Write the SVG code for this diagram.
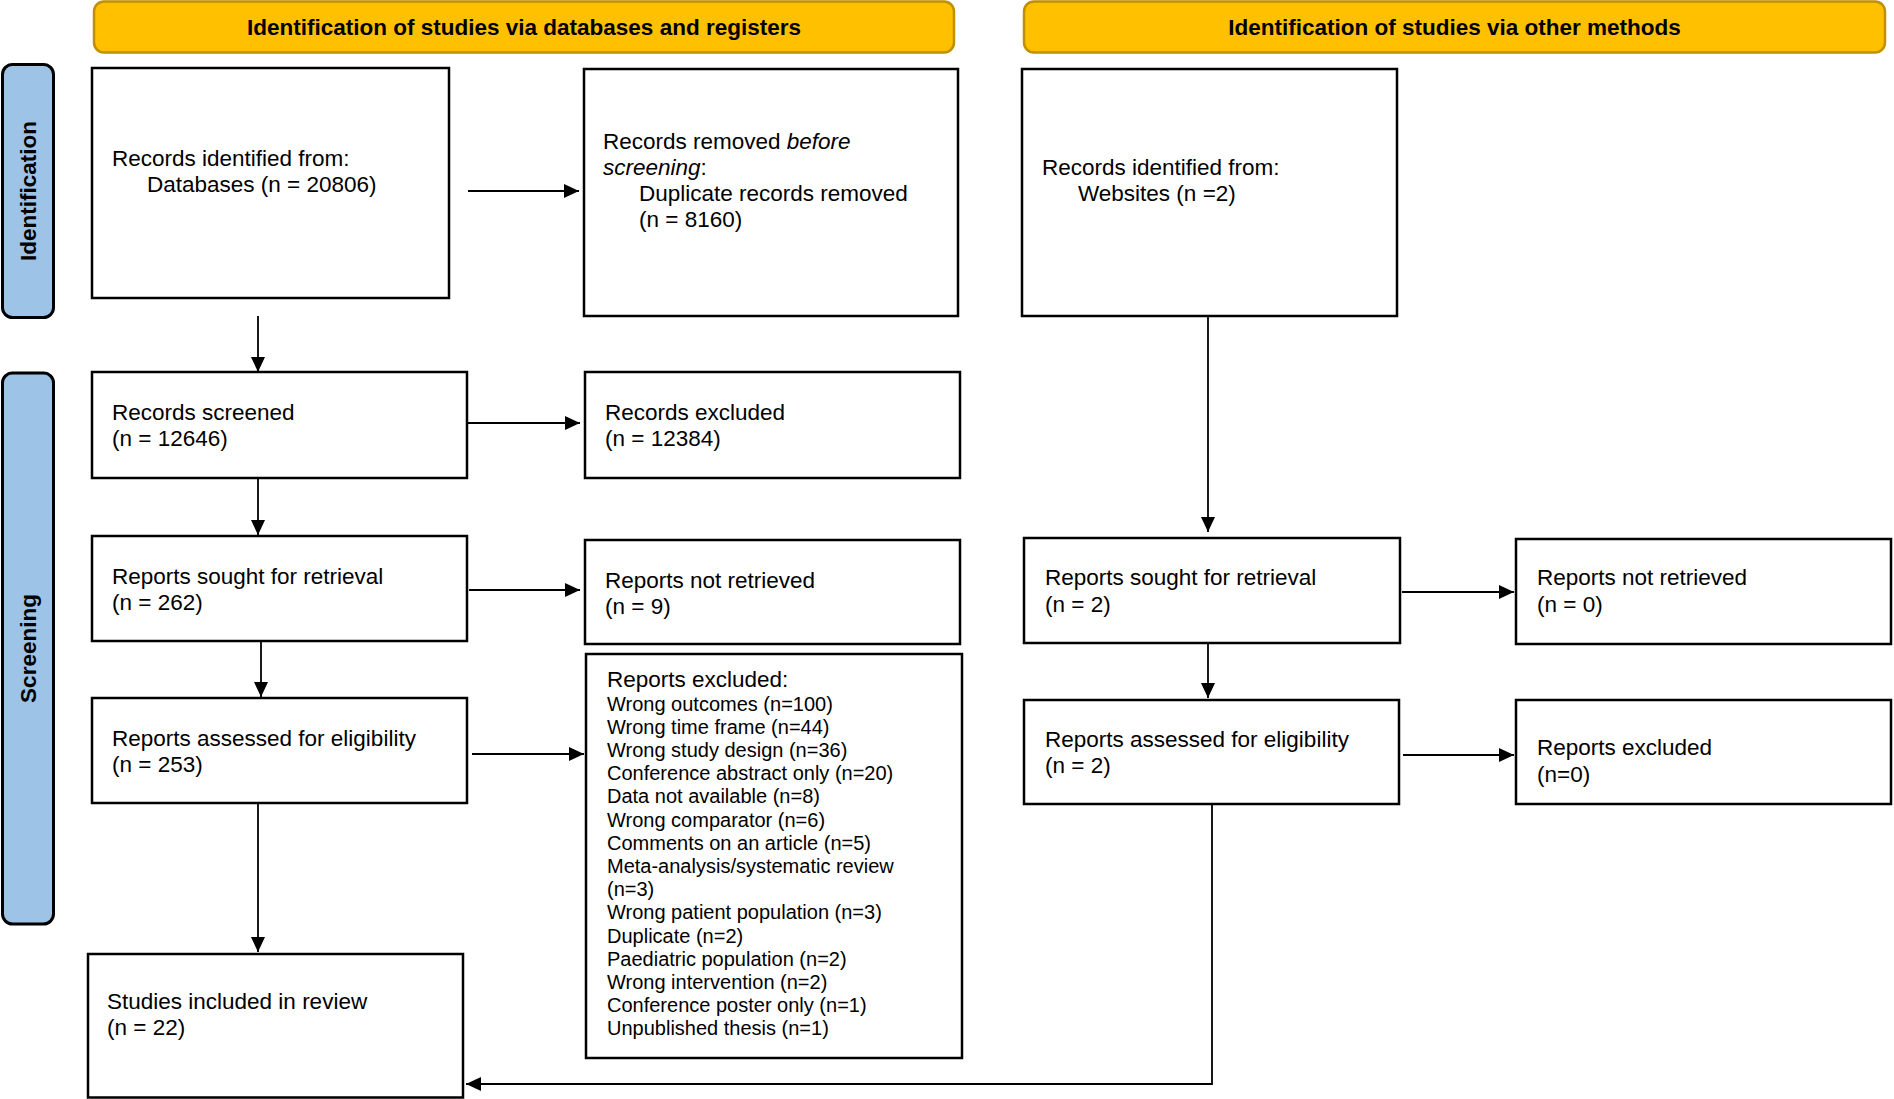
<svg xmlns="http://www.w3.org/2000/svg" width="1894" height="1099" viewBox="0 0 1894 1099">
<style>
.hdr{fill:#FFC000;stroke:#BF9000;stroke-width:2.5}
.side{fill:#9DC3E6;stroke:#000;stroke-width:3}
.box{fill:#fff;stroke:#000;stroke-width:2.5}
.t{font-family:"Liberation Sans",Arial,sans-serif;font-size:22.5px;fill:#000}
.s{font-family:"Liberation Sans",Arial,sans-serif;font-size:20px;fill:#000}
.b{font-family:"Liberation Sans",Arial,sans-serif;font-size:22.5px;font-weight:bold;fill:#000;text-anchor:middle}
.c{fill:none;stroke:#000;stroke-width:1.8}
</style>
<defs>
<marker id="ah" markerUnits="userSpaceOnUse" markerWidth="16" markerHeight="16" refX="15" refY="7" orient="auto">
<path d="M0,0 L15,7 L0,14 Z" fill="#000"/>
</marker>
</defs>
<rect width="1894" height="1099" fill="#fff"/>

<g id="header-databases">
<rect class="hdr" x="94" y="1.5" width="860" height="51" rx="10"/>
<text class="b" x="524" y="35">Identification of studies via databases and registers</text>
</g>
<g id="header-other">
<rect class="hdr" x="1024" y="1.5" width="861" height="51" rx="10"/>
<text class="b" x="1454.5" y="35">Identification of studies via other methods</text>
</g>
<g id="side-identification">
<rect class="side" x="2.5" y="64.5" width="51" height="253" rx="10"/>
<text class="b" transform="translate(36,191) rotate(-90)" x="0" y="0">Identification</text>
</g>
<g id="side-screening">
<rect class="side" x="2.5" y="373" width="51" height="551" rx="10"/>
<text class="b" transform="translate(36,648.5) rotate(-90)" x="0" y="0">Screening</text>
</g>

<g id="records-identified-db">
<rect class="box" x="92" y="68" width="357" height="230"/>
<text class="t" x="112" y="166">Records identified from:</text>
<text class="t" x="147" y="192">Databases (n = 20806)</text>
</g>
<g id="records-removed">
<rect class="box" x="584" y="69" width="374" height="247"/>
<text class="t" x="603" y="149">Records removed <tspan font-style="italic">before</tspan></text>
<text class="t" x="603" y="175"><tspan font-style="italic">screening</tspan>:</text>
<text class="t" x="639" y="201">Duplicate records removed</text>
<text class="t" x="639" y="227">(n = 8160)</text>
</g>
<g id="records-identified-web">
<rect class="box" x="1022" y="69" width="375" height="247"/>
<text class="t" x="1042" y="175">Records identified from:</text>
<text class="t" x="1078" y="201">Websites (n =2)</text>
</g>
<g id="records-screened">
<rect class="box" x="92" y="372" width="375" height="106"/>
<text class="t" x="112" y="420">Records screened</text>
<text class="t" x="112" y="446">(n = 12646)</text>
</g>
<g id="records-excluded">
<rect class="box" x="585" y="372" width="375" height="106"/>
<text class="t" x="605" y="420">Records excluded</text>
<text class="t" x="605" y="446">(n = 12384)</text>
</g>
<g id="reports-sought-db">
<rect class="box" x="92" y="536" width="375" height="105"/>
<text class="t" x="112" y="584">Reports sought for retrieval</text>
<text class="t" x="112" y="610">(n = 262)</text>
</g>
<g id="reports-not-retrieved-db">
<rect class="box" x="585" y="540" width="375" height="104"/>
<text class="t" x="605" y="588">Reports not retrieved</text>
<text class="t" x="605" y="614">(n = 9)</text>
</g>
<g id="reports-assessed-db">
<rect class="box" x="92" y="698" width="375" height="105"/>
<text class="t" x="112" y="746">Reports assessed for eligibility</text>
<text class="t" x="112" y="772">(n = 253)</text>
</g>
<g id="reports-excluded-db">
<rect class="box" x="586" y="654" width="376" height="404"/>
<text class="t" x="607" y="686.5">Reports excluded:</text>
<text class="s" x="607" y="710.5">Wrong outcomes (n=100)</text>
<text class="s" x="607" y="733.7">Wrong time frame (n=44)</text>
<text class="s" x="607" y="756.9">Wrong study design (n=36)</text>
<text class="s" x="607" y="780.1">Conference abstract only (n=20)</text>
<text class="s" x="607" y="803.3">Data not available (n=8)</text>
<text class="s" x="607" y="826.5">Wrong comparator (n=6)</text>
<text class="s" x="607" y="849.7">Comments on an article (n=5)</text>
<text class="s" x="607" y="872.9">Meta-analysis/systematic review</text>
<text class="s" x="607" y="896.1">(n=3)</text>
<text class="s" x="607" y="919.3">Wrong patient population (n=3)</text>
<text class="s" x="607" y="942.5">Duplicate (n=2)</text>
<text class="s" x="607" y="965.7">Paediatric population (n=2)</text>
<text class="s" x="607" y="988.9">Wrong intervention (n=2)</text>
<text class="s" x="607" y="1012.1">Conference poster only (n=1)</text>
<text class="s" x="607" y="1035.3">Unpublished thesis (n=1)</text>
</g>
<g id="studies-included">
<rect class="box" x="88" y="954" width="375" height="143.5"/>
<text class="t" x="107" y="1009">Studies included in review</text>
<text class="t" x="107" y="1035">(n = 22)</text>
</g>
<g id="reports-sought-other">
<rect class="box" x="1024" y="538" width="376" height="105"/>
<text class="t" x="1045" y="585">Reports sought for retrieval</text>
<text class="t" x="1045" y="612">(n = 2)</text>
</g>
<g id="reports-not-retrieved-other">
<rect class="box" x="1516" y="539" width="375" height="105"/>
<text class="t" x="1537" y="585">Reports not retrieved</text>
<text class="t" x="1537" y="612">(n = 0)</text>
</g>
<g id="reports-assessed-other">
<rect class="box" x="1024" y="700" width="375" height="104"/>
<text class="t" x="1045" y="747">Reports assessed for eligibility</text>
<text class="t" x="1045" y="773">(n = 2)</text>
</g>
<g id="reports-excluded-other">
<rect class="box" x="1516" y="700" width="375" height="104"/>
<text class="t" x="1537" y="755">Reports excluded</text>
<text class="t" x="1537" y="782">(n=0)</text>
</g>

<g id="connectors">
<line class="c" x1="468" y1="191" x2="579" y2="191" marker-end="url(#ah)"/>
<line class="c" x1="258" y1="316" x2="258" y2="372" marker-end="url(#ah)"/>
<line class="c" x1="467" y1="423" x2="580" y2="423" marker-end="url(#ah)"/>
<line class="c" x1="258" y1="478" x2="258" y2="535" marker-end="url(#ah)"/>
<line class="c" x1="469" y1="590" x2="580" y2="590" marker-end="url(#ah)"/>
<line class="c" x1="261" y1="641" x2="261" y2="697" marker-end="url(#ah)"/>
<line class="c" x1="472" y1="754" x2="584" y2="754" marker-end="url(#ah)"/>
<line class="c" x1="258" y1="803" x2="258" y2="952" marker-end="url(#ah)"/>
<line class="c" x1="1208" y1="316" x2="1208" y2="532" marker-end="url(#ah)"/>
<line class="c" x1="1402" y1="592" x2="1514" y2="592" marker-end="url(#ah)"/>
<line class="c" x1="1208" y1="643" x2="1208" y2="698" marker-end="url(#ah)"/>
<line class="c" x1="1403" y1="755" x2="1514" y2="755" marker-end="url(#ah)"/>
<polyline class="c" points="1212,804 1212,1084 466,1084" marker-end="url(#ah)"/>
</g>
</svg>
